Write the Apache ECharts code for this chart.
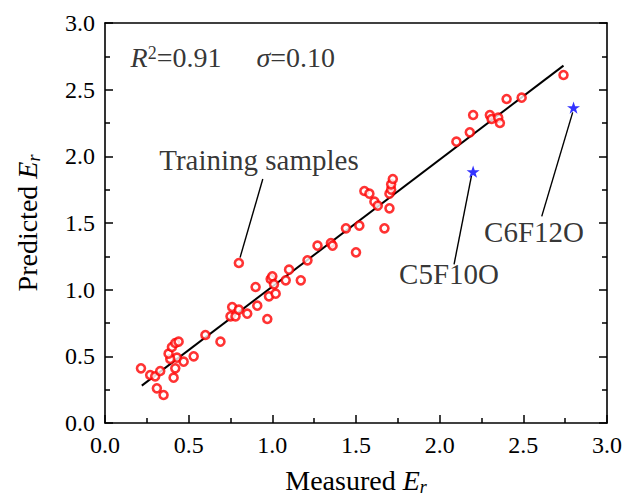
<!DOCTYPE html>
<html><head><meta charset="utf-8">
<script src="https://cdn.jsdelivr.net/npm/echarts@6/dist/echarts.min.js"></script>
<style>html,body{margin:0;padding:0;background:#fff}#c{width:624px;height:499px}</style>
</head><body><div id="c"></div>
<script>
// ---- data ----
const tickValues = [0.0, 0.5, 1.0, 1.5, 2.0, 2.5, 3.0];
const trainMeasured = [0.215,0.27,0.30,0.33,0.31,0.35,0.41,0.42,0.43,0.39,0.38,0.40,0.42,0.44,0.47,0.53,0.60,0.69,0.76,0.75,0.78,0.80,0.85,0.91,0.97,0.80,0.90,0.98,1.02,0.99,1.00,1.01,1.08,1.10,1.17,1.21,1.27,1.35,1.36,1.44,1.50,1.52,1.55,1.58,1.61,1.63,1.67,1.70,1.70,1.71,1.71,1.72,2.10,2.18,2.20,2.30,2.31,2.35,2.36,2.40,2.49,2.74];
const trainPredicted = [0.41,0.36,0.35,0.39,0.26,0.21,0.34,0.41,0.49,0.48,0.52,0.57,0.60,0.61,0.46,0.50,0.66,0.61,0.87,0.80,0.80,0.85,0.82,0.88,0.78,1.20,1.02,0.95,0.97,1.08,1.10,1.04,1.07,1.15,1.07,1.22,1.33,1.35,1.33,1.46,1.28,1.48,1.74,1.72,1.66,1.63,1.46,1.61,1.72,1.75,1.79,1.83,2.11,2.18,2.31,2.31,2.28,2.29,2.25,2.43,2.44,2.61];
const testNames = ['C5F10O', 'C6F12O'];
const testMeasured = [2.20, 2.80];
const testPredicted = [1.885, 2.366];
const fitX = [0.22, 2.74];
const fitY = [0.28, 2.68];
const annTexts = ['Training samples', 'C5F10O', 'C6F12O'];
const annX = [0.92, 2.056, 2.564];
const annY = [1.97, 1.12, 1.436];
const leaderX = [[0.943, 0.807], [2.19, 2.086], [2.795, 2.61]];
const leaderY = [[1.83, 1.24], [1.853, 1.19], [2.33, 1.55]];
const statsX = [0.15];
const statsY = [2.74];

// ---- chart ----
const FF = '"Liberation Serif", "Times New Roman", serif';
const chart = echarts.init(document.getElementById('c'), null, {renderer: 'svg'});
const nameRich = {
  n: {fontFamily: FF, fontSize: 28, lineHeight: 28, verticalAlign: 'top', color: '#000'},
  e: {fontFamily: FF, fontSize: 28, lineHeight: 28, verticalAlign: 'top', fontStyle: 'italic', color: '#000'},
  s: {fontFamily: FF, fontSize: 18, lineHeight: 18, verticalAlign: 'top', fontStyle: 'italic', padding: [12, 0, 0, 0], color: '#000'}
};
const axisCommon = {
  min: 0, max: 3, interval: 0.5,
  axisLine: {show: true, onZero: false, lineStyle: {color: '#000', width: 1.6}},
  axisTick: {show: true, inside: true, length: 8, lineStyle: {color: '#000', width: 1.5}},
  minorTick: {show: true, splitNumber: 2, length: 5, lineStyle: {color: '#000', width: 1.5}},
  splitLine: {show: false}
};
const labelStyle = {
  fontFamily: FF, fontSize: 24, color: '#000', margin: 10,
  formatter: v => tickValues.includes(v) ? v.toFixed(1) : ''
};
const star = 'path://M50,0 L61.8,35.1 L98.5,35.1 L68.8,56.8 L79.4,91.0 L50,70 L20.6,91 L31.2,56.8 L1.5,35.1 L38.2,35.1 Z';

const series = [];
series.push({
  type: 'line', data: fitX.map((x, i) => [x, fitY[i]]), symbol: 'none',
  lineStyle: {color: '#000', width: 2}, silent: true, z: 2
});
series.push({
  type: 'scatter', data: trainMeasured.map((x, i) => [x, trainPredicted[i]]),
  symbol: 'circle', symbolSize: 8,
  itemStyle: {color: '#fff', borderColor: '#ff0000', borderWidth: 2.6}, z: 3
});
series.push({
  type: 'scatter', data: testMeasured.map((x, i) => ({value: [x, testPredicted[i]], name: testNames[i]})),
  symbol: star, symbolSize: 13, symbolKeepAspect: true,
  itemStyle: {color: '#0000ff'}, z: 4
});
leaderX.forEach((lx, k) => {
  series.push({
    type: 'line', data: lx.map((x, i) => [x, leaderY[k][i]]), symbol: 'none',
    lineStyle: {color: '#000', width: 1.4}, silent: true, z: 2
  });
});
series.push({
  type: 'scatter', data: annX.map((x, i) => ({value: [x, annY[i]], name: annTexts[i]})),
  symbolSize: 1, itemStyle: {color: 'rgba(0,0,0,0)'}, silent: true,
  label: {show: true, position: 'inside', formatter: p => p.name,
    fontFamily: FF, fontSize: 29, color: '#000'}
});
series.push({
  type: 'scatter', data: statsX.map((x, i) => [x, statsY[i]]),
  symbolSize: 1, itemStyle: {color: 'rgba(0,0,0,0)'}, silent: true,
  label: {show: true, position: 'right', distance: 0,
    formatter: () => '{i|R}{sup|2}{n|=0.91     }{i|σ}{n|=0.10}',
    rich: {
      i: {fontFamily: FF, fontSize: 28, lineHeight: 28, verticalAlign: 'top', fontStyle: 'italic', color: '#000'},
      n: {fontFamily: FF, fontSize: 28, lineHeight: 28, verticalAlign: 'top', color: '#000'},
      sup: {fontFamily: FF, fontSize: 18, lineHeight: 18, verticalAlign: 'top', color: '#000'}
    }}
});

chart.setOption({
  animation: false,
  backgroundColor: '#fff',
  grid: {left: 105, right: 17, top: 23, bottom: 76, containLabel: false, outerBoundsMode: 'none'},
  xAxis: [
    Object.assign({}, axisCommon, {
      type: 'value', position: 'bottom',
      name: '{n|Measured }{e|E}{s|r}', nameLocation: 'middle', nameGap: 43,
      nameTextStyle: {rich: nameRich},
      axisLabel: labelStyle
    }),
    Object.assign({}, axisCommon, {
      type: 'value', position: 'top',
      axisTick: {show: false}, minorTick: {show: false}, axisLabel: {show: false}
    })
  ],
  yAxis: [
    Object.assign({}, axisCommon, {
      type: 'value', position: 'left',
      name: '{n|Predicted }{e|E}{s|r}', nameLocation: 'middle', nameGap: 64,
      nameTextStyle: {rich: nameRich},
      axisLabel: labelStyle
    }),
    Object.assign({}, axisCommon, {
      type: 'value', position: 'right', axisLabel: {show: false}
    })
  ],
  series: series
});
</script></body></html>
